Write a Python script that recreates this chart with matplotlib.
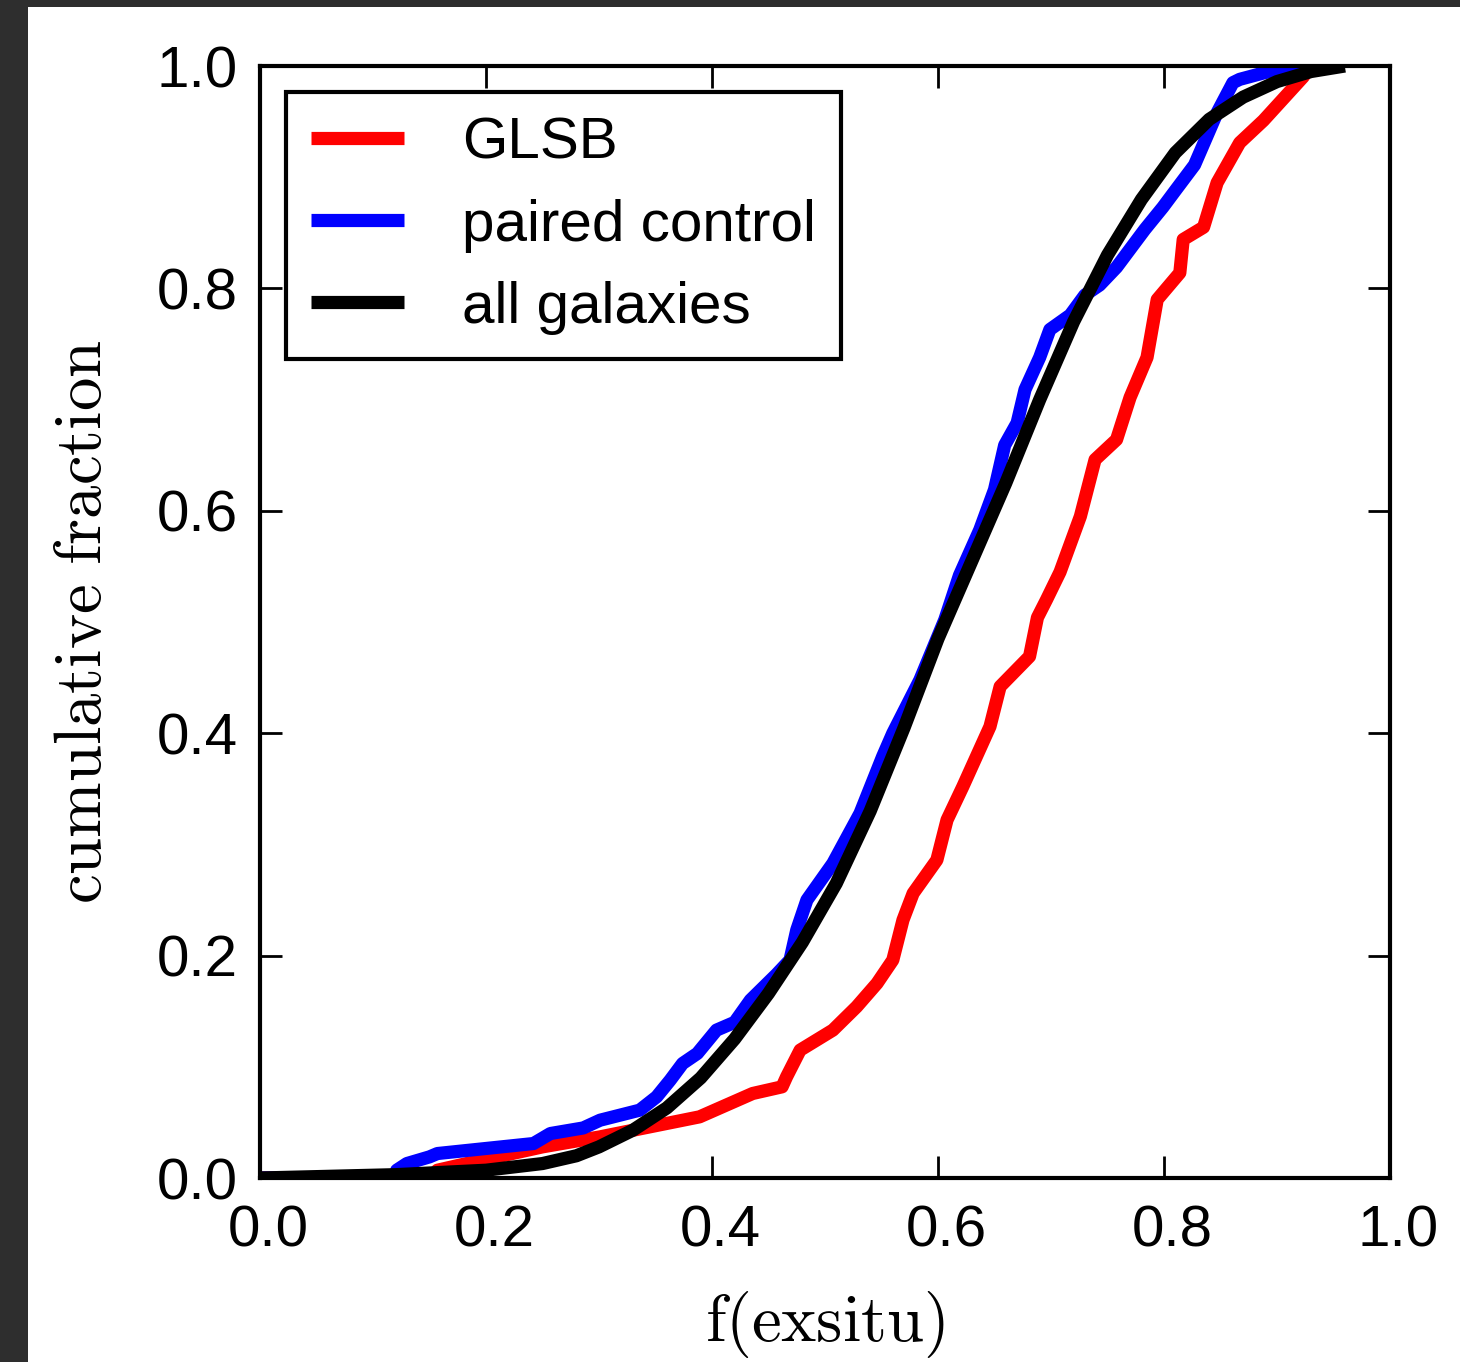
import numpy as np
import matplotlib
matplotlib.use("Agg")
import matplotlib.pyplot as plt
import matplotlib.transforms as mtransforms
from matplotlib.patches import Rectangle

# values
glsb_x = [0.0, 0.15, 0.157, 0.183, 0.25, 0.301, 0.389, 0.436, 0.462, 0.466, 0.478, 0.507,
          0.528, 0.546, 0.56, 0.569, 0.578, 0.599, 0.608, 0.622, 0.634, 0.646, 0.655, 0.681,
          0.688, 0.696, 0.708, 0.726, 0.739, 0.758, 0.77, 0.785, 0.794, 0.814, 0.817, 0.835,
          0.847, 0.867, 0.888, 0.923, 0.93]
glsb_y = [0.0, 0.0, 0.007, 0.013, 0.028, 0.037, 0.055, 0.076, 0.082, 0.091, 0.115, 0.133,
          0.154, 0.175, 0.196, 0.232, 0.256, 0.286, 0.322, 0.352, 0.379, 0.406, 0.442, 0.469,
          0.504, 0.52, 0.545, 0.595, 0.646, 0.664, 0.702, 0.738, 0.79, 0.814, 0.844, 0.855,
          0.895, 0.931, 0.951, 0.99, 1.0]

paired_x = [0.0, 0.119, 0.121, 0.13, 0.15, 0.157, 0.242, 0.257, 0.286, 0.301, 0.336, 0.351,
            0.363, 0.374, 0.387, 0.404, 0.42, 0.434, 0.457, 0.469, 0.475, 0.484, 0.507, 0.531,
            0.551, 0.56, 0.584, 0.606, 0.619, 0.637, 0.650, 0.659, 0.67, 0.677, 0.69, 0.699,
            0.717, 0.730, 0.743, 0.758, 0.783, 0.799, 0.810, 0.827, 0.847, 0.861, 0.867, 0.889,
            0.907, 0.92]
paired_y = [0.0, 0.0, 0.007, 0.013, 0.019, 0.022, 0.031, 0.040, 0.045, 0.052, 0.061, 0.073,
            0.088, 0.103, 0.112, 0.133, 0.14, 0.16, 0.183, 0.196, 0.223, 0.25, 0.283, 0.328,
            0.379, 0.40, 0.448, 0.502, 0.542, 0.583, 0.619, 0.659, 0.679, 0.709, 0.738, 0.763,
            0.776, 0.794, 0.803, 0.819, 0.853, 0.873, 0.888, 0.911, 0.958, 0.985, 0.988, 0.994,
            0.998, 1.0]

all_x = [0.0, 0.12, 0.2, 0.25, 0.28, 0.30, 0.33, 0.36, 0.39, 0.42, 0.45, 0.48, 0.51, 0.54,
         0.57, 0.60, 0.63, 0.66, 0.69, 0.72, 0.75, 0.78, 0.81, 0.84, 0.87, 0.90, 0.93, 0.96]
all_y = [0.0, 0.003, 0.007, 0.013, 0.02, 0.028, 0.043, 0.063, 0.09, 0.125, 0.166, 0.212,
         0.265, 0.33, 0.405, 0.485, 0.555, 0.625, 0.70, 0.77, 0.83, 0.88, 0.922, 0.952,
         0.972, 0.986, 0.995, 1.0]

ticks = [0.0, 0.2, 0.4, 0.6, 0.8, 1.0]

plt.rcParams['mathtext.fontset'] = 'cm'
plt.rcParams['font.family'] = ['Liberation Sans', 'DejaVu Sans']

fig = plt.figure(figsize=(14.6, 13.62), dpi=100)
fig.patch.set_facecolor('#2e2e2e')
# white slide area, dark strip on left and top
fig.patches.append(Rectangle((28 / 1460, 0), 1 - 28 / 1460, 1 - 7 / 1362,
                             transform=fig.transFigure, facecolor='white',
                             edgecolor='none', zorder=-10))

ax = fig.add_axes([260 / 1460, 1 - 1178 / 1362, 1130 / 1460, 1112 / 1362])

ax.plot(glsb_x, glsb_y, color='red', lw=9.5, solid_capstyle='butt', label='GLSB')
ax.plot(paired_x, paired_y, color='blue', lw=9.5, solid_capstyle='butt', label='paired control')
ax.plot(all_x, all_y, color='black', lw=9.5, solid_capstyle='butt', label='all galaxies')

ax.set_xlim(0, 1)
ax.set_ylim(0, 1)
ax.set_xticks(ticks)
ax.set_yticks(ticks)
ax.set_xticklabels(['%.1f' % t for t in ticks])
ax.set_yticklabels(['%.1f' % t for t in ticks])
ax.tick_params(direction='in', length=16, width=2, labelsize=42, top=True, right=True)
ax.tick_params(axis='x', pad=19)
ax.tick_params(axis='y', pad=16)
for s in ax.spines.values():
    s.set_linewidth(3)

# x tick labels sit a little right of their ticks in the original
shift = mtransforms.ScaledTranslation(8 / 100, 0, fig.dpi_scale_trans)
for lab in ax.get_xticklabels():
    lab.set_transform(lab.get_transform() + shift)

ax.set_xlabel(r'$\mathrm{f(exsitu)}$', fontsize=48, labelpad=22)
ax.set_ylabel(r'$\mathrm{cumulative\ fraction}$', fontsize=48, labelpad=30)

leg = ax.legend(loc='upper left', fontsize=42, handlelength=1.6, handletextpad=1.0,
                borderaxespad=0.45, borderpad=0.42, labelspacing=0.48,
                fancybox=False, framealpha=1)
leg.get_frame().set_edgecolor('black')
leg.get_frame().set_linewidth(3)

fig.savefig('out.png', dpi=100, facecolor=fig.get_facecolor())
